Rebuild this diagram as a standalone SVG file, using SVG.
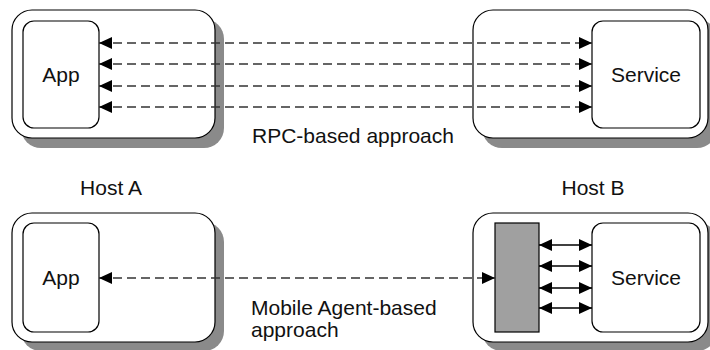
<svg xmlns="http://www.w3.org/2000/svg" width="710" height="350" viewBox="0 0 710 350">
  <defs>
    <marker id="head" viewBox="0 0 13 12" markerWidth="13" markerHeight="12" refX="13" refY="6" orient="auto-start-reverse" markerUnits="userSpaceOnUse">
      <path d="M0,0 L13,6 L0,12 Z" fill="#000"/>
    </marker>
  </defs>
  <style>
    .shadow { fill: #8a8a8a; }
    .host { fill: #fff; stroke: #000; stroke-width: 1.2; }
    .box { fill: #fff; stroke: #000; stroke-width: 1.2; }
    .agent { fill: #a0a0a0; stroke: #000; stroke-width: 1.2; }
    .dash { fill: none; stroke: #333; stroke-width: 1.3; stroke-dasharray: 9 5; marker-start: url(#head); marker-end: url(#head); }
    .solid { fill: none; stroke: #000; stroke-width: 1.3; marker-start: url(#head); marker-end: url(#head); }
    text { font-family: "Liberation Sans", Arial, sans-serif; font-size: 21px; fill: #111; }
  </style>
  <rect width="710" height="350" fill="#fff"/>

  <!-- host frames (RPC row) -->
  <g id="hostA-rpc">
    <rect class="shadow" x="21" y="19" width="203" height="129" rx="20"/>
    <rect class="host" x="12" y="10" width="203" height="128" rx="20"/>
  </g>
  <g id="hostB-rpc">
    <rect class="shadow" x="482" y="19" width="235" height="129" rx="20"/>
    <rect class="host" x="473" y="10" width="235" height="128" rx="20"/>
  </g>
  <g id="app-rpc">
    <rect class="box" x="23" y="21" width="76" height="107" rx="11"/>
    <text x="61" y="82" text-anchor="middle">App</text>
  </g>
  <g id="service-rpc">
    <rect class="box" x="592" y="21" width="108" height="107" rx="11"/>
    <text x="646" y="82" text-anchor="middle">Service</text>
  </g>

  <!-- host frames (agent row) -->
  <g id="hostA-agent">
    <rect class="shadow" x="21" y="222" width="203" height="129" rx="20"/>
    <rect class="host" x="12" y="213" width="203" height="129" rx="20"/>
  </g>
  <g id="hostB-agent">
    <rect class="shadow" x="482" y="222" width="235" height="129" rx="20"/>
    <rect class="host" x="473" y="213" width="235" height="129" rx="20"/>
  </g>
  <g id="app-agent">
    <rect class="box" x="23" y="223" width="76" height="109" rx="11"/>
    <text x="61" y="285" text-anchor="middle">App</text>
  </g>
  <g id="agent">
    <rect class="agent" x="495" y="223" width="44" height="109"/>
  </g>
  <g id="service-agent">
    <rect class="box" x="592" y="223" width="108" height="109" rx="11"/>
    <text x="646" y="285" text-anchor="middle">Service</text>
  </g>

  <!-- connectors -->
  <g id="connectors">
    <line class="dash" x1="99" y1="43" x2="592" y2="43"/>
    <line class="dash" x1="99" y1="64" x2="592" y2="64"/>
    <line class="dash" x1="99" y1="86" x2="592" y2="86"/>
    <line class="dash" x1="99" y1="107" x2="592" y2="107"/>
    <line class="dash" x1="99" y1="278" x2="495" y2="278"/>
    <line class="solid" x1="539" y1="245" x2="592" y2="245"/>
    <line class="solid" x1="539" y1="266" x2="592" y2="266"/>
    <line class="solid" x1="539" y1="288" x2="592" y2="288"/>
    <line class="solid" x1="539" y1="308" x2="592" y2="308"/>
  </g>

  <!-- labels -->
  <text x="252" y="143">RPC-based approach</text>
  <text x="111" y="195" text-anchor="middle">Host A</text>
  <text x="593" y="195" text-anchor="middle">Host B</text>
  <text x="251" y="315">Mobile Agent-based</text>
  <text x="251" y="337">approach</text>
</svg>
